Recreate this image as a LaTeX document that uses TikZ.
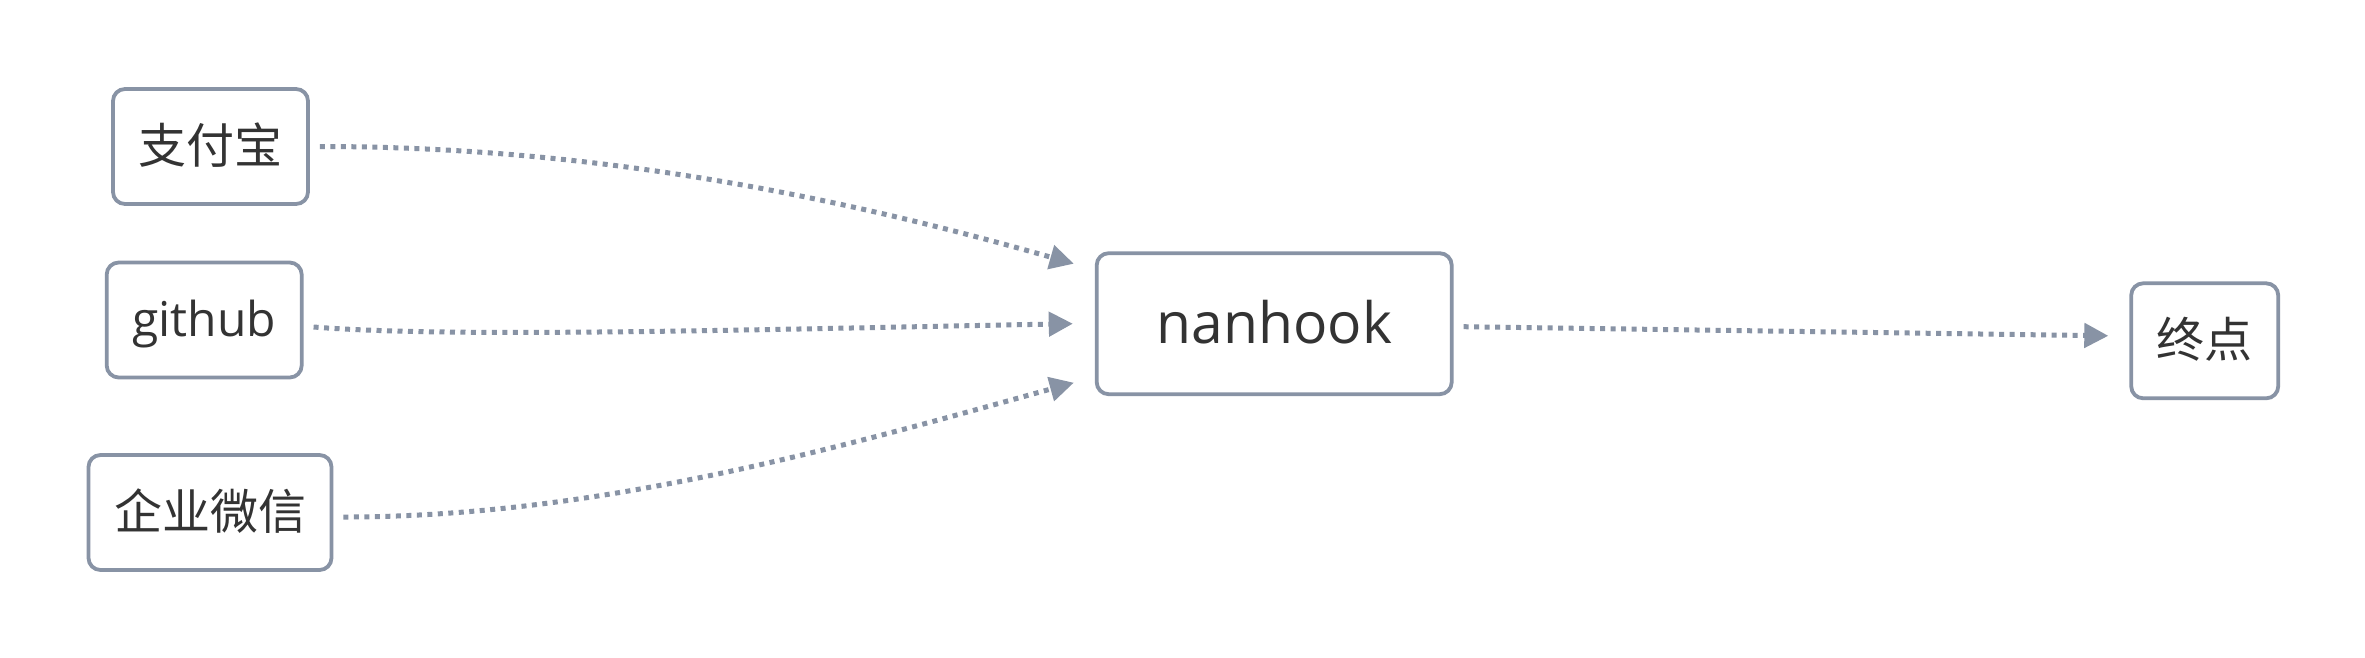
\documentclass[tikz,border=0pt]{standalone}
\usepackage{fontspec}
\setmainfont{Open Sans}
\newfontfamily\cjk{Noto Sans CJK SC}
\usetikzlibrary{arrows.meta}
\definecolor{edgec}{HTML}{8893A5}
\definecolor{txtc}{HTML}{333333}
\begin{document}
\begin{tikzpicture}[x=1pt,y=-1pt,
  box/.style={draw=edgec, line width=3.8pt, rounded corners=12pt, fill=white,
    inner sep=0pt, text=txtc, font=\fontsize{48}{58}\selectfont,
    text height=41pt, text depth=8pt, align=center},
  bigbox/.style={box, font=\fontsize{57}{68}\selectfont, text height=48.5pt, text depth=9.7pt},
  link/.style={draw=edgec, line width=5pt, dash pattern=on 5pt off 5.5pt,
    -{Triangle[length=24pt,width=24pt]}}]
\useasboundingbox (0,0) rectangle (2365,657);
\fill[white] (0,0) rectangle (2365,657);
\node[box, minimum width=195pt, minimum height=115pt] (zfb) at (210.5,146.5) {\cjk 支付宝};
\node[box, minimum width=195pt, minimum height=115pt] (gh) at (204.2,320) {github};
\node[box, minimum width=243pt, minimum height=115pt] (qw) at (210,512.5) {\cjk 企业微信};
\node[bigbox, minimum width=355pt, minimum height=141pt] (nan) at (1274.2,323.7) {nanhook};
\node[box, minimum width=147pt, minimum height=115pt] (tp) at (2204.7,340.8) {\cjk 终点};
\draw[link] ([shift={(10,0)}]zfb.east) .. controls +(282,0) and +(-225,-64) .. ([shift={(-21,-60)}]nan.west);
\draw[link] ([shift={(10,7)}]gh.east) .. controls +(138,11) and +(-325,6) .. ([shift={(-22,0)}]nan.west);
\draw[link] ([shift={(10,4.5)}]qw.east) .. controls +(258,0) and +(-225,62) .. ([shift={(-21,59)}]nan.west);
\draw[link] ([shift={(10,3)}]nan.east) -- ([shift={(-21,-5)}]tp.west);
\end{tikzpicture}
\end{document}
